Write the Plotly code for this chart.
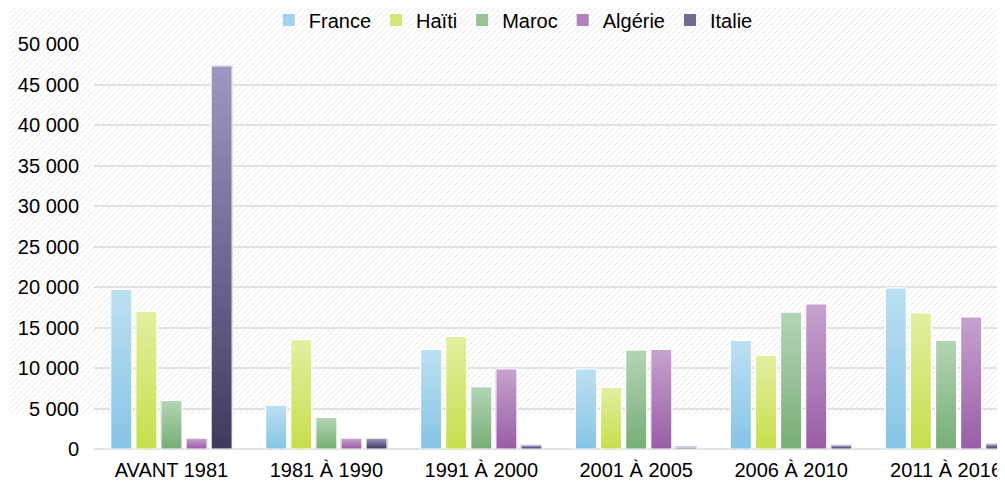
import base64
import plotly.graph_objects as go

categories = ["AVANT 1981", "1981 À 1990", "1991 À 2000", "2001 À 2005", "2006 À 2010", "2011 À 2016"]
series_names = ["France", "Haïti", "Maroc", "Algérie", "Italie"]
france = [19700, 5400, 12300, 9900, 13400, 19900]
haiti = [17000, 13500, 13900, 7600, 11600, 16800]
maroc = [6000, 3900, 7700, 12200, 16900, 13400]
algerie = [1350, 1350, 9900, 12300, 17900, 16300]
italie = [47300, 1350, 500, 250, 500, 650]
series_values = [france, haiti, maroc, algerie, italie]

top_colors = ["#bde0f3", "#e3efa0", "#b4d5b5", "#c6a3ce", "#9d99c3"]
bottom_colors = ["#86c4e5", "#c8de4c", "#77ad77", "#995da6", "#3e3a5f"]

N = 30


def hex2rgb(h):
    h = h.lstrip("#")
    return [int(h[i:i + 2], 16) for i in (0, 2, 4)]


def mix(c1, c2, t):
    a, b = hex2rgb(c1), hex2rgb(c2)
    return "rgb(%d,%d,%d)" % tuple(round(a[i] + (b[i] - a[i]) * t) for i in range(3))


fig = go.Figure()
for s, (name, vals) in enumerate(zip(series_names, series_values)):
    for k in range(N):
        frac = k / N
        fig.add_trace(go.Bar(
            x=categories,
            y=[v * (1 - frac) for v in vals],
            base=[v * frac for v in vals],
            offsetgroup=name,
            legendgroup=name,
            name=name,
            showlegend=(k == N // 2),
            marker=dict(color=mix(bottom_colors[s], top_colors[s], (k + 0.5) / N), line=dict(width=0)),
            hoverinfo="skip",
        ))
    fig.add_trace(go.Bar(
        x=categories,
        y=vals,
        offsetgroup=name,
        legendgroup=name,
        name=name,
        showlegend=False,
        marker=dict(color="rgba(0,0,0,0)", line=dict(color="white", width=1.2)),
    ))

FW, FH = 997, 474
L, R, T, B = 85.5, 0, 36, 33
pw = FW - L - R
ph = FH - T - B

# diagonal hatch background
HW, HH = FW, 406
svg = (
    '<svg xmlns="http://www.w3.org/2000/svg" width="%d" height="%d">'
    '<defs><pattern id="p" patternUnits="userSpaceOnUse" width="6" height="6">'
    '<path d="M-1,1 l2,-2 M0,6 l6,-6 M5,7 l2,-2" stroke="#e8e8e8" stroke-width="1"/>'
    '</pattern></defs><rect width="100%%" height="100%%" fill="url(#p)"/></svg>' % (HW, HH)
)
src = "data:image/svg+xml;base64," + base64.b64encode(svg.encode()).decode()

fig.add_layout_image(dict(
    source=src, xref="paper", yref="paper",
    x=-L / pw, y=(FH - B) / ph, sizex=FW / pw, sizey=HH / ph,
    xanchor="left", yanchor="top", sizing="stretch", layer="below",
))

fig.update_layout(
    width=FW, height=FH,
    margin=dict(l=L, r=R, t=T, b=B, autoexpand=False),
    barmode="group",
    bargap=0.19,
    bargroupgap=0.16,
    paper_bgcolor="white",
    plot_bgcolor="rgba(0,0,0,0)",
    separators=", ",
    font=dict(family="Liberation Sans, Arial", size=20, color="#000000"),
    legend=dict(
        orientation="h", x=(505 - L) / pw, xanchor="center", y=(FH - B - 12) / ph, yanchor="middle",
        font=dict(size=20), bgcolor="rgba(0,0,0,0)", itemwidth=30, traceorder="normal",
    ),
    showlegend=True,
)
fig.update_xaxes(
    range=[-0.5, -0.5 + pw / 155], showgrid=False, showline=False, zeroline=False,
    ticks="", tickfont=dict(size=20), ticklabelstandoff=7, automargin=False,
)
fig.update_yaxes(
    range=[0, 50000], dtick=5000, tickformat=",d", showgrid=True, gridcolor="#e2e2e2",
    gridwidth=1.5, zeroline=True, zerolinecolor="#e2e2e2", zerolinewidth=1.5,
    showline=False, ticks="", tickfont=dict(size=20), ticklabelstandoff=14, automargin=False,
)

fig.write_html("out.html")
